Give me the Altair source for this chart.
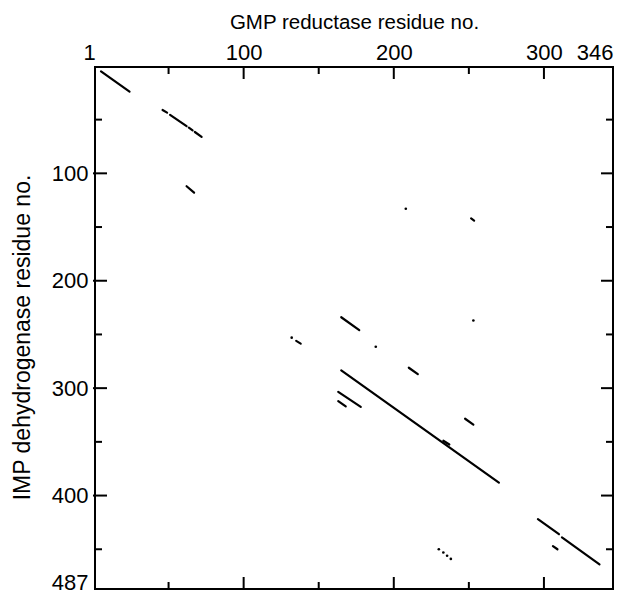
import altair as alt
import pandas as pd

# Dot-plot similarity segments: GMP reductase residue (x) vs IMP dehydrogenase residue (y)
seg_x1 = [5, 46, 51, 63.5, 67.5, 62, 251.5, 165, 135, 210, 165, 163, 163, 247.5, 296, 312, 306, 233]
seg_y1 = [5, 41, 45.5, 57.5, 61.5, 112, 142, 234, 256, 281, 283.5, 303.5, 312, 328.5, 422, 439, 447, 349]
seg_x2 = [24, 49, 62, 66, 72, 67, 253.5, 177, 138, 216, 270, 178, 168, 253, 310, 337, 309, 237]
seg_y2 = [24, 43.5, 56, 60, 66, 118, 144, 246, 258.5, 287, 388, 317.5, 317, 334, 436, 464, 450, 352.5]

dot_x = [208, 253, 132, 188, 230, 233, 235.5, 238]
dot_y = [133, 237, 253, 261.5, 450, 453, 456, 459]

x_labels = [1, 100, 200, 300, 346]
y_labels = [100, 200, 300, 400, 487]
x_major = [100, 200, 300]
x_minor = [50, 150, 250]
y_major = [100, 200, 300, 400]
y_minor = [50, 150, 250, 350, 450]

W, H = 518, 522
FONT = "Liberation Sans"
MAJ, MIN = 12, 7

xscale = alt.Scale(domain=[1, 346], nice=False, zero=False)
yscale = alt.Scale(domain=[1, 487], nice=False, zero=False, reverse=True)

segs = pd.DataFrame({"x1": seg_x1, "y1": seg_y1, "x2": seg_x2, "y2": seg_y2})
dots = pd.DataFrame({"x": dot_x, "y": dot_y})

xaxis = alt.Axis(
    orient="top", values=x_labels, ticks=False, domain=False, grid=False,
    labelFont=FONT, labelFontSize=22, labelColor="black", labelPadding=3,
    labelOffset=alt.condition("datum.value == 1", alt.value(-12), alt.value(0)),
    title="GMP reductase residue no.", titleFont=FONT, titleFontSize=20.5,
    titleFontWeight="normal", titleColor="black", titleY=-45, titleBaseline="middle",
)
yaxis = alt.Axis(
    orient="left", values=y_labels, ticks=False, domain=False, grid=False,
    labelFont=FONT, labelFontSize=22, labelColor="black", labelPadding=7,
    labelOffset=alt.condition("datum.value == 487", alt.value(-7), alt.value(0)),
    title="IMP dehydrogenase residue no.", titleFont=FONT, titleFontSize=23,
    titleFontWeight="normal", titleColor="black", titleX=-73, titleY=H / 2 + 9,
    titleBaseline="middle",
)

base_seg = alt.Chart(segs).mark_rule(color="black", strokeWidth=2.2, strokeCap="round").encode(
    x=alt.X("x1:Q", scale=xscale, axis=xaxis),
    y=alt.Y("y1:Q", scale=yscale, axis=yaxis),
    x2="x2:Q",
    y2="y2:Q",
)
dot_layer = alt.Chart(dots).mark_circle(color="black", size=7, opacity=1).encode(
    x=alt.X("x:Q", scale=xscale),
    y=alt.Y("y:Q", scale=yscale),
)


def vticks(vals, y0, y1):
    return alt.Chart(pd.DataFrame({"t": vals})).mark_rule(color="black", strokeWidth=2).encode(
        x=alt.X("t:Q", scale=xscale), y=alt.value(y0), y2=alt.value(y1)
    )


def hticks(vals, x0, x1):
    return alt.Chart(pd.DataFrame({"t": vals})).mark_rule(color="black", strokeWidth=2).encode(
        y=alt.Y("t:Q", scale=yscale), x=alt.value(x0), x2=alt.value(x1)
    )


layers = [
    vticks(x_major, 0, MAJ), vticks(x_minor, 0, MIN),
    vticks(x_major, H, H - MAJ), vticks(x_minor, H, H - MIN),
    hticks(y_major, -2, MAJ), hticks(y_minor, 0, MIN),
    hticks(y_major, W, W - MAJ), hticks(y_minor, W, W - MIN),
    base_seg, dot_layer,
]

chart = alt.layer(*layers).properties(
    width=W, height=H,
    autosize=alt.AutoSizeParams(type="none"),
    padding={"left": 87, "top": 59, "right": 13, "bottom": 12},
    background="white",
).configure_view(stroke="black", strokeWidth=2)

chart.save("out.html", embed_options={"renderer": "svg", "actions": False})
